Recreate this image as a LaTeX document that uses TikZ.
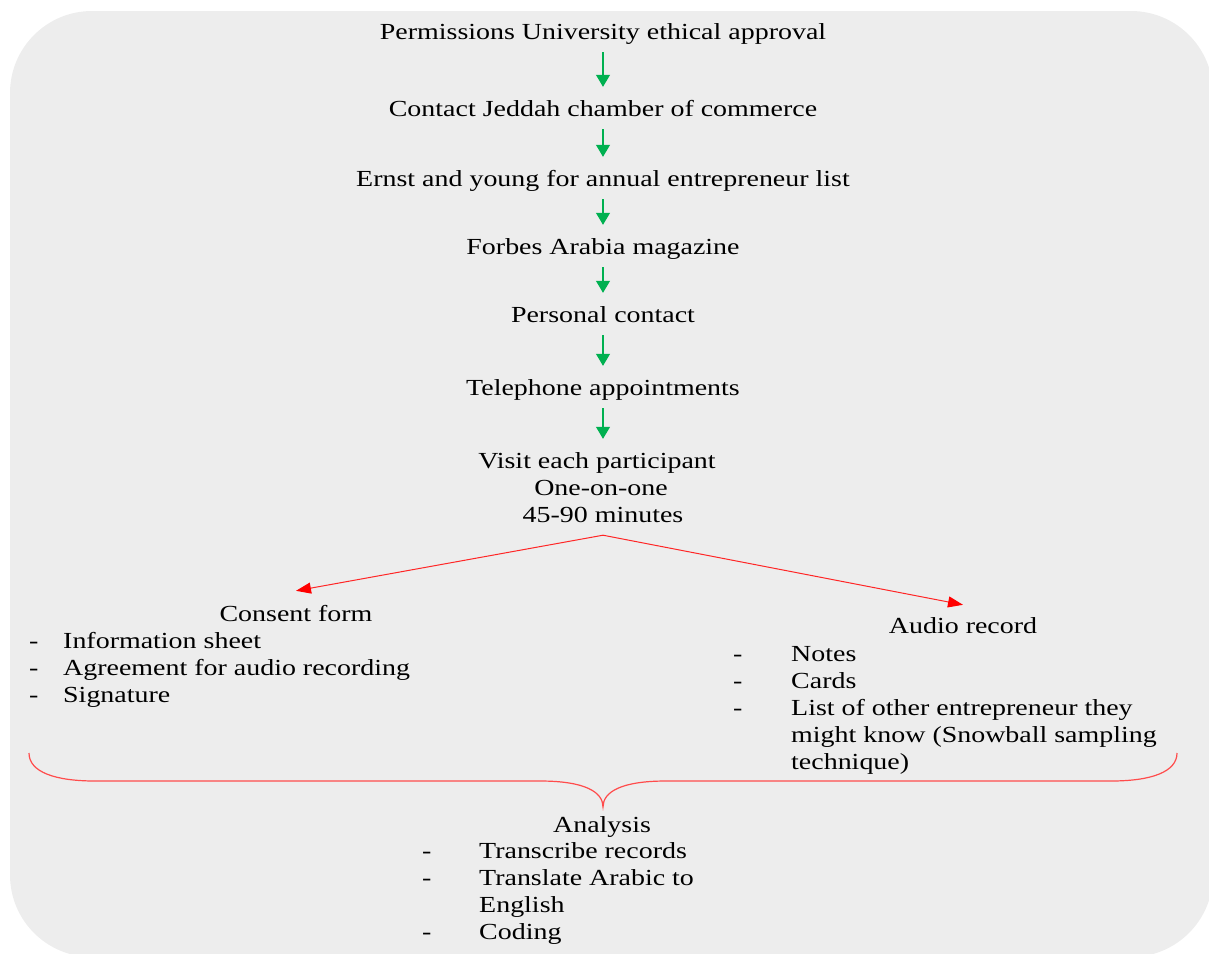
\documentclass[tikz,border=0pt]{standalone}
\usepackage{fontspec}
\setmainfont{Liberation Serif}[FakeStretch=1.215]
\usetikzlibrary{arrows.meta}
\definecolor{bg}{HTML}{EDEDED}
\definecolor{grn}{HTML}{00B050}
\definecolor{rd}{HTML}{FF0000}
\begin{document}
\begin{tikzpicture}[x=1pt,y=-1pt,
  txt/.style={inner sep=0pt, font=\fontsize{23}{27}\selectfont, text height=15pt, text depth=5pt, anchor=base},
  lft/.style={txt, anchor=base west},
  garrow/.style={draw=grn, line width=1.2pt, -{Triangle[length=12pt,width=14pt]}, shorten <=8pt, shorten >=14pt},
  rarrow/.style={draw=rd!85, line width=1pt, -{Triangle[length=15pt,width=11pt,fill=rd,color=rd]}},
  bracestyle/.style={draw=rd!70, line width=1.2pt}]
\useasboundingbox (0,0) rectangle (1209,953);
\clip (0,0) rectangle (1209,953);
\fill[bg, rounded corners=82pt] (10,11) rectangle (1213,957);

% main chain
\node[txt] (n1) at (603,39) {Permissions University ethical approval};
\node[txt] (n2) at (603,116) {Contact Jeddah chamber of commerce};
\node[txt] (n3) at (603,186) {Ernst and young for annual entrepreneur list};
\node[txt] (n4) at (603,254) {Forbes Arabia magazine};
\node[txt] (n5) at (603,322) {Personal contact};
\node[txt] (n6) at (603,395) {Telephone appointments};
\node[txt] (v1) at (597,468) {Visit each participant};
\node[txt] (v2) at (601,495) {One-on-one};
\node[txt, text depth=13pt] (v3) at (603,522) {45-90 minutes};

\draw[garrow] (n1.south) -- (n2.north);
\draw[garrow] (n2.south) -- (n3.north);
\draw[garrow] (n3.south) -- (n4.north);
\draw[garrow] (n4.south) -- (n5.north);
\draw[garrow] (n5.south) -- (n6.north);
\draw[garrow] (n6.south) -- (n6.south |- v1.north);

% consent form
\node[txt, text height=30pt] (cf) at (296,621) {Consent form};
\node[lft] (cd1) at (29,648) {-};
\node[lft] (ci1) at (63,648) {Information sheet};
\node[lft] (cd2) at (29,675) {-};
\node[lft] (ci2) at (63,675) {Agreement for audio recording};
\node[lft] (cd3) at (29,702) {-};
\node[lft] (ci3) at (63,702) {Signature};

% audio record
\node[txt, text height=28pt] (ar) at (963,633) {Audio record};
\node[lft] (ad1) at (733,661) {-};
\node[lft] (ai1) at (791,661) {Notes};
\node[lft] (ad2) at (733,688) {-};
\node[lft] (ai2) at (791,688) {Cards};
\node[lft] (ad3) at (733,715) {-};
\node[lft] (ai3) at (791,715) {List of other entrepreneur they};
\node[lft] (ai4) at (791,742) {might know (Snowball sampling};
\node[lft] (ai5) at (791,769) {technique)};

\draw[rarrow] (v3.south) -- (cf.north);
\draw[rarrow] (v3.south) -- (ar.north);

% brace
\draw[bracestyle] (29,753) .. controls (29,772) and (55,781) .. (95,781) -- (540,781)
  .. controls (585,781) and (603,792) .. (603,807)
  .. controls (603,792) and (621,781) .. (666,781) -- (1111,781)
  .. controls (1151,781) and (1177,772) .. (1177,753);

% analysis
\node[txt] (an) at (602,832) {Analysis};
\node[lft] (nd1) at (422,858) {-};
\node[lft] (ni1) at (479,858) {Transcribe records};
\node[lft] (nd2) at (422,885) {-};
\node[lft] (ni2) at (479,885) {Translate Arabic to};
\node[lft] (ni3) at (479,912) {English};
\node[lft] (nd3) at (422,939) {-};
\node[lft] (ni4) at (479,939) {Coding};
\end{tikzpicture}
\end{document}
